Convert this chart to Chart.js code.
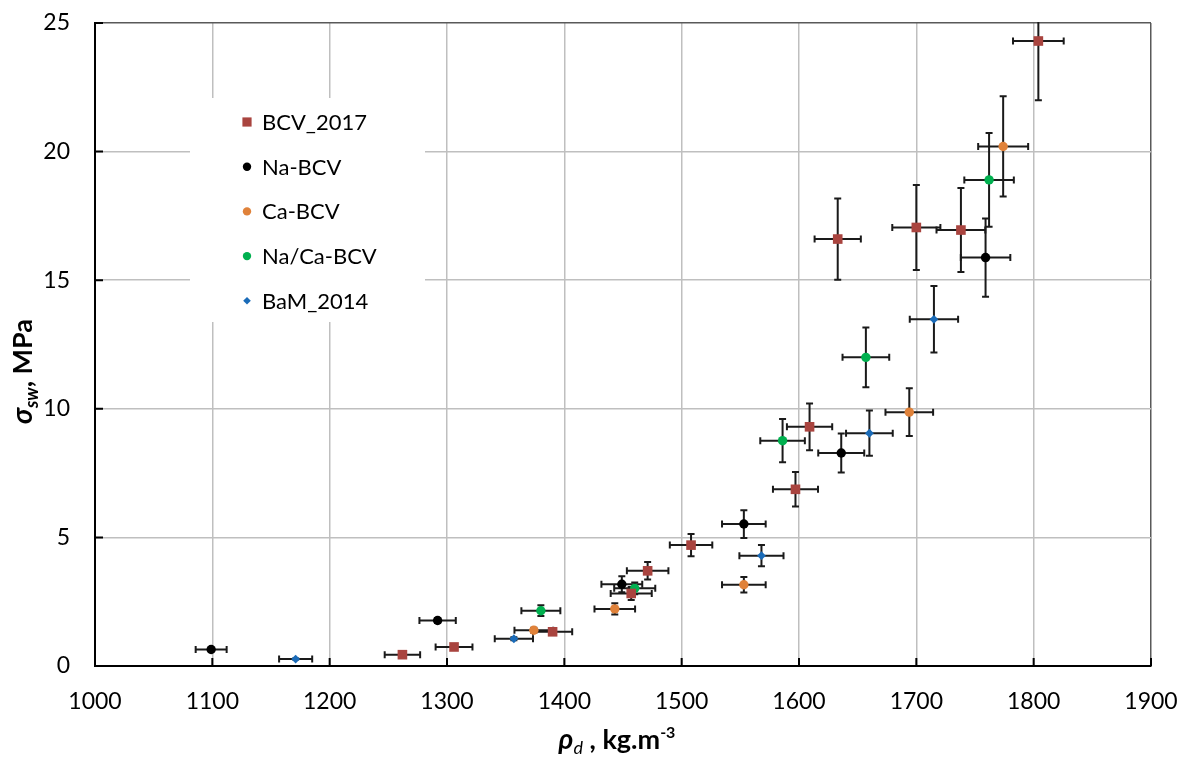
<!DOCTYPE html>
<html>
<head>
<meta charset="utf-8">
<script src="https://cdn.jsdelivr.net/npm/chart.js@4.4.1/dist/chart.umd.min.js"></script>
<style>
  html, body { margin: 0; padding: 0; background: #fff; }
  #wrap { width: 1180px; height: 758px; }
</style>
</head>
<body>
<div id="wrap"><canvas id="swellingChart" width="1180" height="758"></canvas></div>
<script>
// axis ticks
const xTicks = [1000, 1100, 1200, 1300, 1400, 1500, 1600, 1700, 1800, 1900]
const yTicks = [0, 5, 10, 15, 20, 25]

// BCV_2017
const bcvX = [1804, 1633, 1700, 1738, 1609, 1597, 1508, 1471, 1457, 1390, 1306, 1262]
const bcvY = [24.3, 16.6, 17.05, 16.95, 9.3, 6.87, 4.7, 3.7, 2.82, 1.33, 0.74, 0.44]
const bcvXErr = [21.6, 19.7, 20.5, 20.8, 19.3, 19.2, 18.1, 17.7, 17.5, 16.7, 15.7, 15.1]
const bcvYErr = [2.3, 1.58, 1.65, 1.63, 0.91, 0.67, 0.43, 0.34, 0.25, 0.12, 0.07, 0.04]

// Na-BCV
const naX = [1759, 1636, 1553, 1449, 1292, 1099]
const naY = [15.88, 8.28, 5.52, 3.18, 1.77, 0.64]
const naXErr = [21.1, 19.6, 18.6, 17.4, 15.5, 13.2]
const naYErr = [1.52, 0.76, 0.54, 0.31, 0.1, 0.05]

// Ca-BCV
const caX = [1774, 1694, 1553, 1443, 1374]
const caY = [20.2, 9.87, 3.16, 2.22, 1.39]
const caXErr = [21.3, 20.3, 18.6, 17.3, 16.5]
const caYErr = [1.95, 0.93, 0.3, 0.22, 0.1]

// Na/Ca-BCV
const nacaX = [1762, 1657, 1586, 1460, 1380]
const nacaY = [18.9, 12.0, 8.76, 3.02, 2.15]
const nacaXErr = [21.1, 19.9, 19.0, 17.5, 16.6]
const nacaYErr = [1.82, 1.16, 0.84, 0.23, 0.21]

// BaM_2014
const bamX = [1715, 1660, 1568, 1357, 1171]
const bamY = [13.48, 9.05, 4.29, 1.06, 0.27]
const bamXErr = [20.6, 19.9, 18.8, 16.3, 14.1]
const bamYErr = [1.29, 0.88, 0.41, 0.06, 0.02]

const toPoints = (xs, ys, xErr, yErr) =>
  xs.map((x, i) => ({ x: x, y: ys[i], xErr: xErr[i], yErr: yErr[i] }))

Chart.defaults.font.family = "Lato, 'Open Sans', sans-serif"
Chart.defaults.color = "#000"

// Error bars, drawn under the markers
const errorBars = {
  id: "errorBars",
  beforeDatasetsDraw(chart) {
    const { ctx, chartArea, scales } = chart
    const xs = scales.x
    const ys = scales.y
    ctx.save()
    ctx.beginPath()
    ctx.rect(chartArea.left, chartArea.top - 1, chartArea.right - chartArea.left, chartArea.bottom - chartArea.top + 1)
    ctx.clip()
    ctx.strokeStyle = "#1a1a1a"
    ctx.lineWidth = 2
    const cap = 3.5
    chart.data.datasets.forEach((ds) => {
      ds.data.forEach((p) => {
        const px = xs.getPixelForValue(p.x)
        const py = ys.getPixelForValue(p.y)
        const x0 = xs.getPixelForValue(p.x - p.xErr)
        const x1 = xs.getPixelForValue(p.x + p.xErr)
        const y0 = ys.getPixelForValue(p.y - p.yErr)
        const y1 = ys.getPixelForValue(p.y + p.yErr)
        ctx.beginPath()
        ctx.moveTo(x0, py); ctx.lineTo(x1, py)
        ctx.moveTo(x0, py - cap); ctx.lineTo(x0, py + cap)
        ctx.moveTo(x1, py - cap); ctx.lineTo(x1, py + cap)
        ctx.moveTo(px, y0); ctx.lineTo(px, y1)
        ctx.moveTo(px - cap, y0); ctx.lineTo(px + cap, y0)
        ctx.moveTo(px - cap, y1); ctx.lineTo(px + cap, y1)
        ctx.stroke()
      })
    })
    ctx.restore()

    // small inward tick marks on both axes
    ctx.save()
    ctx.strokeStyle = "#000"
    ctx.lineWidth = 2
    ctx.beginPath()
    xTicks.forEach((v) => {
      const px = xs.getPixelForValue(v)
      ctx.moveTo(px, chartArea.bottom); ctx.lineTo(px, chartArea.bottom - 8)
    })
    yTicks.forEach((v) => {
      const py = ys.getPixelForValue(v)
      ctx.moveTo(chartArea.left, py); ctx.lineTo(chartArea.left + 8, py)
    })
    ctx.stroke()
    ctx.restore()
  },
}

// Legend inside the plot, on a white box
const boxLegend = {
  id: "boxLegend",
  afterDatasetsDraw(chart) {
    const { ctx, chartArea } = chart
    const left = chartArea.left + 95
    const top = chartArea.top + 75
    ctx.save()
    ctx.fillStyle = "#fff"
    ctx.fillRect(left, top, 235, 224)
    ctx.font = "22px Lato, 'Open Sans', sans-serif"
    ctx.textBaseline = "middle"
    ctx.textAlign = "left"
    chart.data.datasets.forEach((ds, i) => {
      const cy = top + 24 + i * 44.7
      const cx = left + 57
      ctx.fillStyle = ds.backgroundColor
      Chart.helpers.drawPoint(ctx, { pointStyle: ds.pointStyle, radius: ds.legendRadius, rotation: 0, borderWidth: 0 }, cx, cy)
      ctx.fillStyle = "#000"
      ctx.fillText(ds.label, cx + 15, cy + 1)
    })
    ctx.restore()
  },
}

// Axis titles with sub/superscripts
function drawRich(ctx, parts, x, y) {
  let total = 0
  parts.forEach((p) => { ctx.font = p.font; p.w = ctx.measureText(p.text).width; total += p.w })
  let cx = x - total / 2
  ctx.textAlign = "left"
  ctx.textBaseline = "alphabetic"
  parts.forEach((p) => {
    ctx.font = p.font
    ctx.fillText(p.text, cx, y + (p.dy || 0))
    cx += p.w
  })
}

const axisTitles = {
  id: "axisTitles",
  afterDraw(chart) {
    const { ctx, chartArea } = chart
    const fam = "Lato, 'DejaVu Sans', sans-serif"
    ctx.save()
    ctx.fillStyle = "#000"
    drawRich(ctx, [
      { text: "ρ", font: "italic bold 28px " + fam },
      { text: "d", font: "italic 18px " + fam, dy: 5 },
      { text: " , kg.m", font: "bold 27px " + fam },
      { text: "-3", font: "bold 16px " + fam, dy: -11 },
    ], (chartArea.left + chartArea.right) / 2 - 6, 749)
    ctx.translate(32, (chartArea.top + chartArea.bottom) / 2 + 27)
    ctx.rotate(-Math.PI / 2)
    drawRich(ctx, [
      { text: "σ", font: "italic bold 28px " + fam },
      { text: "sw", font: "italic bold 18px " + fam, dy: 6 },
      { text: ", MPa", font: "bold 27px " + fam },
    ], 0, 0)
    ctx.restore()
  },
}

const el = document.getElementById("swellingChart")
new Chart(el, {
  type: "scatter",
  data: {
    datasets: [
      { label: "BCV_2017", data: toPoints(bcvX, bcvY, bcvXErr, bcvYErr), pointStyle: "rect", pointRadius: 6.8, legendRadius: 6.5, backgroundColor: "#A9443F" },
      { label: "Na-BCV", data: toPoints(naX, naY, naXErr, naYErr), pointStyle: "circle", pointRadius: 4.7, legendRadius: 4.2, backgroundColor: "#000000" },
      { label: "Ca-BCV", data: toPoints(caX, caY, caXErr, caYErr), pointStyle: "circle", pointRadius: 4.7, legendRadius: 4.2, backgroundColor: "#E0823A" },
      { label: "Na/Ca-BCV", data: toPoints(nacaX, nacaY, nacaXErr, nacaYErr), pointStyle: "circle", pointRadius: 4.7, legendRadius: 4.2, backgroundColor: "#00B04F" },
      { label: "BaM_2014", data: toPoints(bamX, bamY, bamXErr, bamYErr), pointStyle: "rectRot", pointRadius: 4.4, legendRadius: 3.8, backgroundColor: "#1A6BB8" },
    ].map((ds) => ({ ...ds, pointBorderWidth: 0, borderWidth: 0, pointHoverRadius: ds.pointRadius })),
  },
  options: {
    responsive: false,
    animation: false,
    events: [],
    layout: { padding: { top: 23, right: 29, left: 0, bottom: 0 } },
    plugins: {
      legend: { display: false },
      tooltip: { enabled: false },
    },
    scales: {
      x: {
        type: "linear",
        min: 1000,
        max: 1900,
        afterBuildTicks: (axis) => { axis.ticks = xTicks.map((v) => ({ value: v })) },
        afterFit: (axis) => { axis.height = 92 },
        grid: {
          color: (c) => (c.tick && c.tick.value === 1900 ? "#595959" : "#BFBFBF"),
          lineWidth: 1.5,
          drawTicks: true,
          tickLength: 22,
          tickColor: "rgba(0,0,0,0)",
        },
        border: { color: "#000", width: 2 },
        ticks: { padding: 0, color: "#000", font: { size: 23 }, maxRotation: 0, callback: (v) => String(v) },
      },
      y: {
        type: "linear",
        min: 0,
        max: 25,
        afterBuildTicks: (axis) => { axis.ticks = yTicks.map((v) => ({ value: v })) },
        afterFit: (axis) => { axis.width = 95 },
        grid: {
          color: (c) => (c.tick && c.tick.value === 25 ? "#595959" : "#BFBFBF"),
          lineWidth: 1.5,
          drawTicks: true,
          tickLength: 25,
          tickColor: "rgba(0,0,0,0)",
        },
        border: { color: "#000", width: 2 },
        ticks: { padding: 0, color: "#000", font: { size: 23 }, callback: (v) => String(v) },
      },
    },
  },
  plugins: [errorBars, boxLegend, axisTitles],
})
</script>
</body>
</html>
